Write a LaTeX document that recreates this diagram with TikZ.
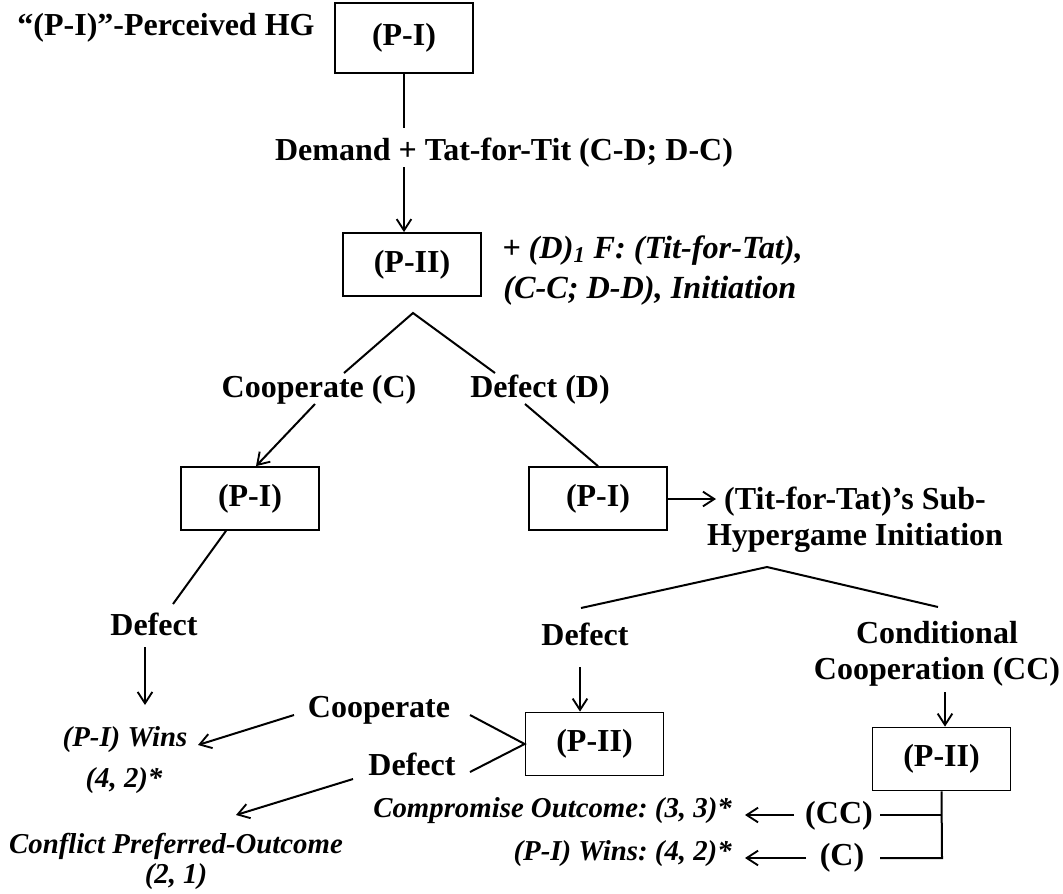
\documentclass[tikz,border=0pt]{standalone}
\usepackage{fontspec}
\setmainfont{Liberation Serif}
\usetikzlibrary{arrows.meta}
\frenchspacing
\begin{document}
\begin{tikzpicture}[x=0.75pt,y=-0.75pt,
  lw/.style={line width=1.5pt},
  arr/.style={lw,-{Straight Barb[length=8.5pt,width=11pt,line width=1.4pt]}},
  stagebox/.style={draw,line width=1.3pt,inner sep=0pt,minimum width=103.5pt,minimum height=47.25pt,
    font=\fontsize{24}{28}\selectfont\bfseries},
  lbl/.style={inner sep=0pt,anchor=base,font=\fontsize{24}{28}\selectfont\bfseries},
  outc/.style={inner sep=0pt,anchor=base,font=\fontsize{21.6}{25}\selectfont\bfseries\itshape},
  note/.style={inner sep=0pt,anchor=base west,font=\fontsize{24.2}{28}\selectfont\bfseries\itshape}]
\useasboundingbox (0,0) rectangle (1063,893);

% top of the hypergame
\node[lbl] (hg) at (166,35) {“(P-I)”-Perceived HG};
\node[stagebox,minimum height=52.5pt] (p1top) at (404,38) {(P-I)};
\node[lbl] (demand) at (504,160) {Demand + Tat-for-Tit (C-D; D-C)};
\node[stagebox] (p2top) at (412,264.5) {(P-II)};
\node[note] (init1) at (502,258) {+ (D)\textsubscript{1} F: (Tit-for-Tat),};
\node[note] (init2) at (503,298) {(C-C; D-D), Initiation};

\coordinate (d1) at (404,128);
\coordinate (d2) at (404,167);
\draw[lw] (p1top.south) -- (d1);
\draw[arr] (d2) -- (d2 |- p2top.north);

% first branching
\coordinate (apex1) at (413,313);
\coordinate (legC) at (344,373);
\coordinate (legD) at (495,373);
\draw[lw] (legC) -- (apex1) -- (legD);
\node[lbl] (coopC) at (319,397) {Cooperate (C)};
\node[lbl] (defD) at (540,397) {Defect (D)};

\node[stagebox] (p1l) at (250,498.5) {(P-I)};
\node[stagebox] (p1r) at (598,498.5) {(P-I)};
\coordinate (cC) at (315,404);
\coordinate (cD) at (525,404);
\draw[arr] (cC) -- ([xshift=4.5pt]p1l.north);
\draw[lw] (cD) -- (p1r.north);

% sub-hypergame
\node[lbl,align=center,anchor=center] (tft) at (855,520) {(Tit-for-Tat)’s Sub-\\[-1pt]Hypergame Initiation};
\coordinate (tftin) at (716,499);
\draw[arr] (p1r.east |- tftin) -- (tftin);

\coordinate (apex2) at (767,567);
\coordinate (legL) at (581,608);
\coordinate (legR) at (938,607);
\draw[lw] (legL) -- (apex2) -- (legR);

\node[lbl] (defR) at (585,645) {Defect};
\node[lbl,align=center,anchor=center] (condcc) at (937,654) {Conditional\\[-1pt]Cooperation (CC)};
\node[stagebox] (p2m) at (594.5,744) {(P-II)};
\node[stagebox] (p2r) at (941.5,759) {(P-II)};
\coordinate (dR) at (580,667);
\coordinate (dCC) at (945,692);
\draw[arr] (dR) -- (dR |- p2m.north);
\draw[arr] (dCC) -- (dCC |- p2r.north);

% left branch
\coordinate (lA) at (173,604);
\draw[lw] ([xshift=-18pt]p1l.south) -- (lA);
\node[lbl] (defL) at (154,635) {Defect};
\coordinate (lB) at (145,647);
\coordinate (lC) at (145,705);
\draw[arr] (lB) -- (lC);
\node[outc] (win1) at (125,746) {(P-I) Wins};
\node[outc] (win1v) at (124,787) {(4, 2)*};

% responses of the middle (P-II)
\node[lbl] (coopM) at (379,717) {Cooperate};
\node[lbl] (defM) at (412,775) {Defect};
\coordinate (cmA) at (294,715);
\coordinate (cmB) at (198,745);
\coordinate (cmC) at (470,715);
\coordinate (dmA) at (470,772);
\coordinate (dmB) at (353,779);
\coordinate (dmC) at (236,815);
\draw[arr] (cmA) -- (cmB);
\draw[lw] (cmC) -- (p2m.west) -- (dmA);
\draw[arr] (dmB) -- (dmC);
\node[outc] (confl) at (176,853) {Conflict Preferred-Outcome};
\node[outc] (conflv) at (176,883) {(2, 1)};

% responses of the right (P-II)
\coordinate (brCC) at (942,815);
\coordinate (brC) at (942,858);
\draw[lw] (p2r.south) -- (brC) -- (880,858);
\draw[lw] (brCC) -- (880,815);
\node[lbl] (ccR) at (839,823) {(CC)};
\node[lbl] (cR) at (842,865) {(C)};
\coordinate (aCCa) at (794,815);
\coordinate (aCCb) at (745,815);
\coordinate (aCa) at (806,858);
\coordinate (aCb) at (745,858);
\draw[arr] (aCCa) -- (aCCb);
\draw[arr] (aCa) -- (aCb);
\node[outc,anchor=base east] (comp) at (732,817) {Compromise Outcome: (3, 3)*};
\node[outc,anchor=base east] (win2) at (732,860) {(P-I) Wins: (4, 2)*};
\end{tikzpicture}
\end{document}
